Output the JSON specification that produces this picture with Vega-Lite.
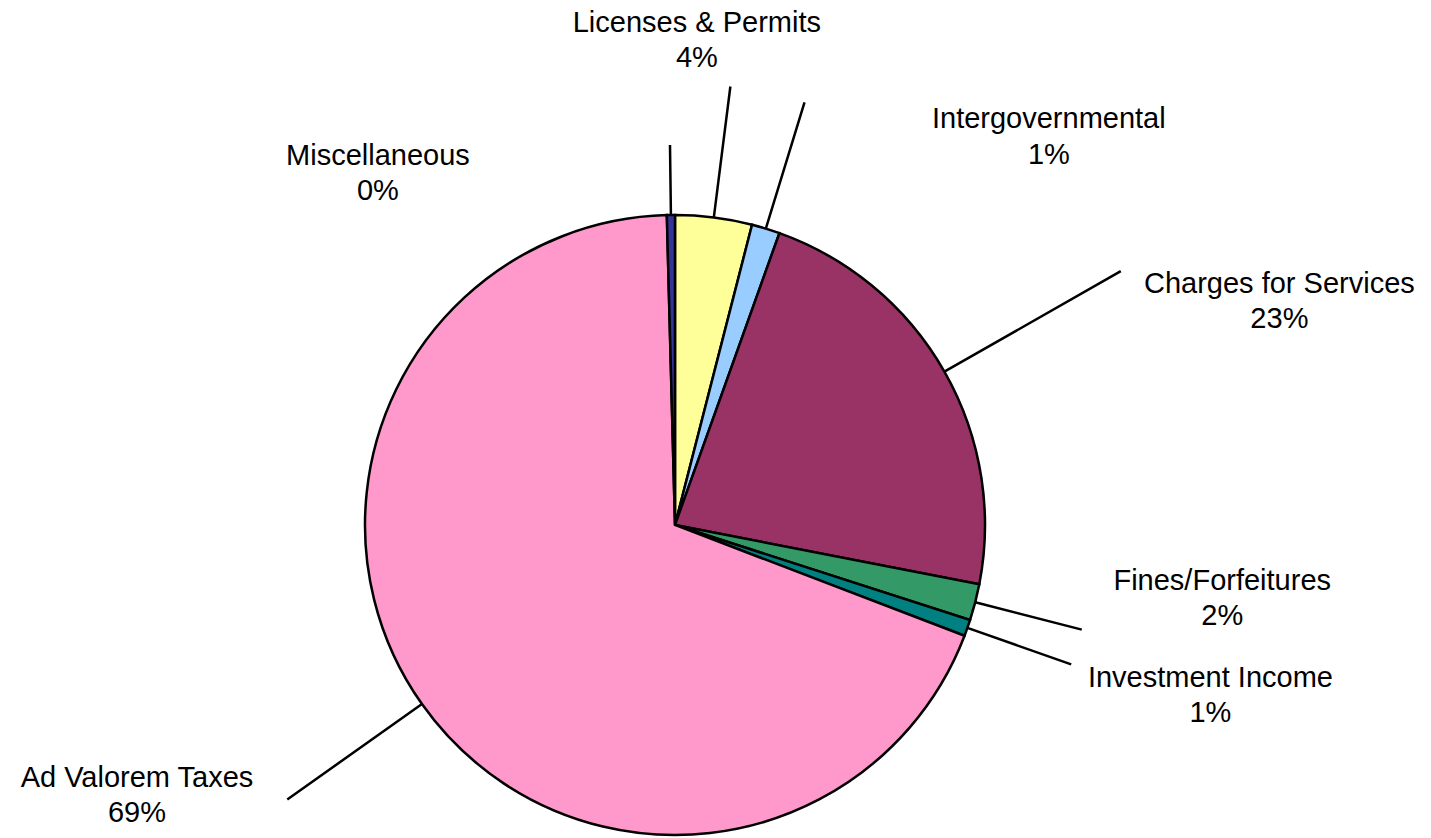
{
  "$schema": "https://vega.github.io/schema/vega-lite/v6.json",
  "width": 1350,
  "height": 626,
  "autosize": {"type": "none"},
  "padding": {"left": 0, "top": 212, "right": 81, "bottom": 0},
  "background": "white",
  "config": {
    "view": {"stroke": null},
    "text": {"font": "Liberation Sans", "fontSize": 29, "color": "#000000", "align": "center", "baseline": "alphabetic"}
  },
  "data": {
    "values": [
      {"category": "Licenses & Permits", "share": 0.040, "rank": 1},
      {"category": "Intergovernmental", "share": 0.0147, "rank": 2},
      {"category": "Charges for Services", "share": 0.226, "rank": 3},
      {"category": "Fines/Forfeitures", "share": 0.019, "rank": 4},
      {"category": "Investment Income", "share": 0.0086, "rank": 5},
      {"category": "Ad Valorem Taxes", "share": 0.688, "rank": 6},
      {"category": "Miscellaneous", "share": 0.0042, "rank": 7}
    ]
  },
  "layer": [
    {
      "mark": {"type": "arc", "radius": 310, "stroke": "#000000", "strokeWidth": 2.5},
      "encoding": {
        "theta": {"field": "share", "type": "quantitative", "stack": true},
        "order": {"field": "rank", "type": "quantitative"},
        "color": {
          "field": "category", "type": "nominal", "legend": null,
          "scale": {
            "domain": ["Licenses & Permits", "Intergovernmental", "Charges for Services", "Fines/Forfeitures", "Investment Income", "Ad Valorem Taxes", "Miscellaneous"],
            "range": ["#FFFF99", "#99CCFF", "#993366", "#339966", "#008080", "#FF99CC", "#333399"]
          }
        }
      }
    },
    {
      "transform": [
        {"stack": "share", "groupby": [], "sort": [{"field": "rank", "order": "ascending"}], "as": ["s0", "s1"]},
        {"fold": ["s0", "s1"], "as": ["edge", "angle"]},
        {"aggregate": [{"op": "mean", "field": "angle", "as": "mid"}], "groupby": ["category", "share", "rank"]}
      ],
      "layer": [
        {
          "transform": [{"filter": {"field": "category", "oneOf": ["Licenses & Permits", "Intergovernmental"]}}],
          "mark": {"type": "arc", "radius": 442, "radius2": 310, "filled": false, "stroke": "#000000", "strokeWidth": 2.5},
          "encoding": {"theta": {"field": "mid", "type": "quantitative", "stack": false}, "theta2": {"field": "mid"}}
        },
        {
          "transform": [{"filter": {"field": "category", "equal": "Charges for Services"}}],
          "mark": {"type": "arc", "radius": 513, "radius2": 310, "filled": false, "stroke": "#000000", "strokeWidth": 2.5},
          "encoding": {"theta": {"field": "mid", "type": "quantitative", "stack": false}, "theta2": {"field": "mid"}}
        },
        {
          "transform": [{"filter": {"field": "category", "oneOf": ["Fines/Forfeitures", "Investment Income"]}}],
          "mark": {"type": "arc", "radius": 420, "radius2": 310, "filled": false, "stroke": "#000000", "strokeWidth": 2.5},
          "encoding": {"theta": {"field": "mid", "type": "quantitative", "stack": false}, "theta2": {"field": "mid"}}
        },
        {
          "transform": [{"filter": {"field": "category", "equal": "Ad Valorem Taxes"}}],
          "mark": {"type": "arc", "radius": 475, "radius2": 310, "filled": false, "stroke": "#000000", "strokeWidth": 2.5},
          "encoding": {"theta": {"field": "mid", "type": "quantitative", "stack": false}, "theta2": {"field": "mid"}}
        },
        {
          "transform": [{"filter": {"field": "category", "equal": "Miscellaneous"}}],
          "mark": {"type": "arc", "radius": 380, "radius2": 310, "filled": false, "stroke": "#000000", "strokeWidth": 2.5},
          "encoding": {"theta": {"field": "mid", "type": "quantitative", "stack": false}, "theta2": {"field": "mid"}}
        },
        {
          "transform": [{"filter": {"field": "category", "equal": "Licenses & Permits"}}],
          "mark": {"type": "text", "radius": 310, "dx": -17, "dy": -185},
          "encoding": {"theta": {"field": "mid", "type": "quantitative", "stack": false}, "text": {"field": "category", "type": "nominal"}}
        },
        {
          "transform": [{"filter": {"field": "category", "equal": "Licenses & Permits"}}],
          "mark": {"type": "text", "radius": 310, "dx": -17, "dy": -150},
          "encoding": {"theta": {"field": "mid", "type": "quantitative", "stack": false}, "text": {"field": "share", "type": "quantitative", "format": ".0%"}}
        },
        {
          "transform": [{"filter": {"field": "category", "equal": "Intergovernmental"}}],
          "mark": {"type": "text", "radius": 310, "dx": 283, "dy": -101},
          "encoding": {"theta": {"field": "mid", "type": "quantitative", "stack": false}, "text": {"field": "category", "type": "nominal"}}
        },
        {
          "transform": [{"filter": {"field": "category", "equal": "Intergovernmental"}}],
          "mark": {"type": "text", "radius": 310, "dx": 283, "dy": -65},
          "encoding": {"theta": {"field": "mid", "type": "quantitative", "stack": false}, "text": {"field": "share", "type": "quantitative", "format": ".0%"}}
        },
        {
          "transform": [{"filter": {"field": "category", "equal": "Charges for Services"}}],
          "mark": {"type": "text", "radius": 310, "dx": 335, "dy": -79},
          "encoding": {"theta": {"field": "mid", "type": "quantitative", "stack": false}, "text": {"field": "category", "type": "nominal"}}
        },
        {
          "transform": [{"filter": {"field": "category", "equal": "Charges for Services"}}],
          "mark": {"type": "text", "radius": 310, "dx": 335, "dy": -44},
          "encoding": {"theta": {"field": "mid", "type": "quantitative", "stack": false}, "text": {"field": "share", "type": "quantitative", "format": ".0%"}}
        },
        {
          "transform": [{"filter": {"field": "category", "equal": "Fines/Forfeitures"}}],
          "mark": {"type": "text", "radius": 310, "dx": 247, "dy": -12},
          "encoding": {"theta": {"field": "mid", "type": "quantitative", "stack": false}, "text": {"field": "category", "type": "nominal"}}
        },
        {
          "transform": [{"filter": {"field": "category", "equal": "Fines/Forfeitures"}}],
          "mark": {"type": "text", "radius": 310, "dx": 247, "dy": 23},
          "encoding": {"theta": {"field": "mid", "type": "quantitative", "stack": false}, "text": {"field": "share", "type": "quantitative", "format": ".0%"}}
        },
        {
          "transform": [{"filter": {"field": "category", "equal": "Investment Income"}}],
          "mark": {"type": "text", "radius": 310, "dx": 243, "dy": 59},
          "encoding": {"theta": {"field": "mid", "type": "quantitative", "stack": false}, "text": {"field": "category", "type": "nominal"}}
        },
        {
          "transform": [{"filter": {"field": "category", "equal": "Investment Income"}}],
          "mark": {"type": "text", "radius": 310, "dx": 243, "dy": 94},
          "encoding": {"theta": {"field": "mid", "type": "quantitative", "stack": false}, "text": {"field": "share", "type": "quantitative", "format": ".0%"}}
        },
        {
          "transform": [{"filter": {"field": "category", "equal": "Ad Valorem Taxes"}}],
          "mark": {"type": "text", "radius": 310, "dx": -285, "dy": 83},
          "encoding": {"theta": {"field": "mid", "type": "quantitative", "stack": false}, "text": {"field": "category", "type": "nominal"}}
        },
        {
          "transform": [{"filter": {"field": "category", "equal": "Ad Valorem Taxes"}}],
          "mark": {"type": "text", "radius": 310, "dx": -285, "dy": 118},
          "encoding": {"theta": {"field": "mid", "type": "quantitative", "stack": false}, "text": {"field": "share", "type": "quantitative", "format": ".0%"}}
        },
        {
          "transform": [{"filter": {"field": "category", "equal": "Miscellaneous"}}],
          "mark": {"type": "text", "radius": 310, "dx": -293, "dy": -50},
          "encoding": {"theta": {"field": "mid", "type": "quantitative", "stack": false}, "text": {"field": "category", "type": "nominal"}}
        },
        {
          "transform": [{"filter": {"field": "category", "equal": "Miscellaneous"}}],
          "mark": {"type": "text", "radius": 310, "dx": -293, "dy": -15},
          "encoding": {"theta": {"field": "mid", "type": "quantitative", "stack": false}, "text": {"field": "share", "type": "quantitative", "format": ".0%"}}
        }
      ]
    }
  ]
}
